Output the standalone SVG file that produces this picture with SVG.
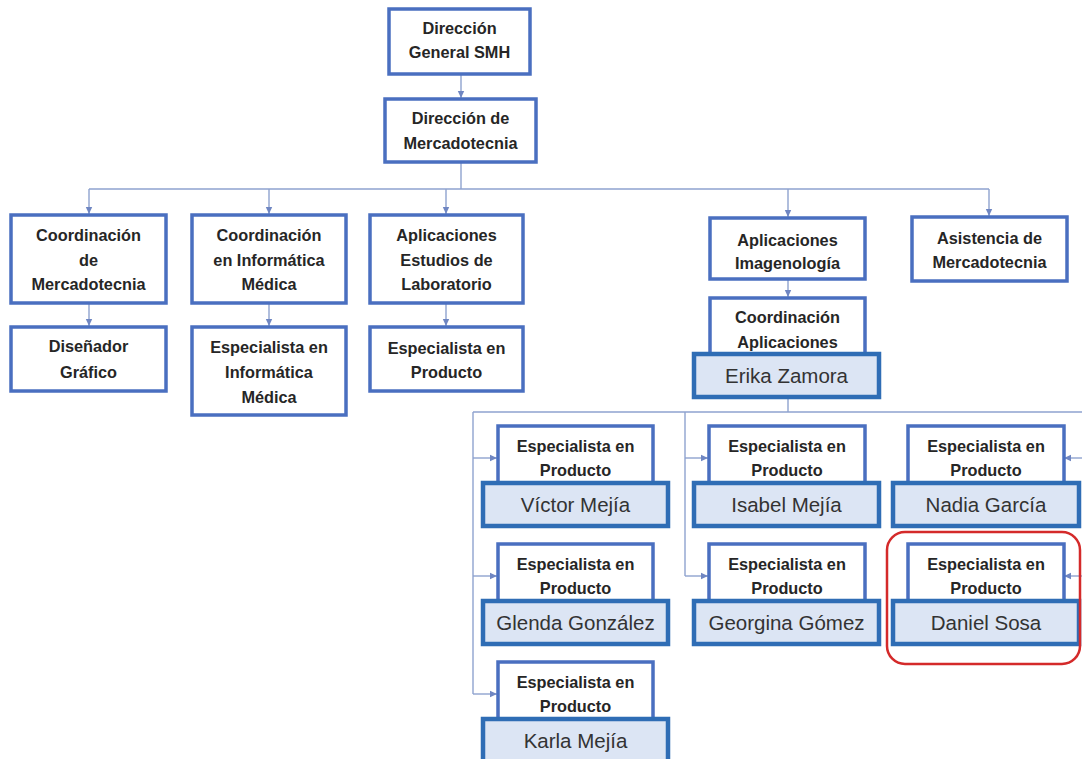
<svg xmlns="http://www.w3.org/2000/svg" width="1082" height="759" viewBox="0 0 1082 759">
  <defs>
    <marker id="arrow" markerUnits="userSpaceOnUse" markerWidth="8" markerHeight="8" refX="7" refY="4" orient="auto">
      <path d="M0,0.8 L7,4 L0,7.2 Z" fill="#6F86C2"/>
    </marker>
    <style>
      .box { fill: #ffffff; stroke: #4A6FC0; stroke-width: 3.5; }
      .name { fill: #DCE5F4; stroke: #2F6DB5; stroke-width: 4.5; }
      .t { font-family: "Liberation Sans", Arial, sans-serif; font-weight: bold; font-size: 16.3px; fill: #262626; text-anchor: middle; }
      .n { font-family: "Liberation Sans", Arial, sans-serif; font-size: 20.5px; fill: #333333; text-anchor: middle; }
      .ln { fill: none; stroke: #8FA3CF; stroke-width: 1.4; }
      .hl { fill: none; stroke: #D42A2A; stroke-width: 2.5; }
    </style>
  </defs>
  <rect width="1082" height="759" fill="#ffffff"/>

  <!-- connectors -->
  <g id="connectors">
    <path class="ln" d="M461,75 V98" marker-end="url(#arrow)"/>
    <path class="ln" d="M461,162 V189 M89,189 H989"/>
    <path class="ln" d="M89,189 V214" marker-end="url(#arrow)"/>
    <path class="ln" d="M269,189 V214" marker-end="url(#arrow)"/>
    <path class="ln" d="M446,189 V214" marker-end="url(#arrow)"/>
    <path class="ln" d="M788,189 V217" marker-end="url(#arrow)"/>
    <path class="ln" d="M989,189 V216" marker-end="url(#arrow)"/>
    <path class="ln" d="M89,303 V326" marker-end="url(#arrow)"/>
    <path class="ln" d="M269,303 V326" marker-end="url(#arrow)"/>
    <path class="ln" d="M446,303 V326" marker-end="url(#arrow)"/>
    <path class="ln" d="M788,279 V297" marker-end="url(#arrow)"/>
    <!-- specialist bus -->
    <path class="ln" d="M788,397 V412 M473,412 H1082 M473,412 V694 M685,412 V576"/>
    <path class="ln" d="M473,458 H497" marker-end="url(#arrow)"/>
    <path class="ln" d="M473,576 H497" marker-end="url(#arrow)"/>
    <path class="ln" d="M473,694 H497" marker-end="url(#arrow)"/>
    <path class="ln" d="M685,458 H708" marker-end="url(#arrow)"/>
    <path class="ln" d="M685,576 H708" marker-end="url(#arrow)"/>
    <path class="ln" d="M1082,458 H1064" marker-end="url(#arrow)"/>
    <path class="ln" d="M1082,576 H1064" marker-end="url(#arrow)"/>
  </g>

  <g id="direccion-general">
    <rect class="box" x="389" y="9" width="141" height="65"/>
    <text class="t" x="459.5" y="34">Dirección</text>
    <text class="t" x="459.5" y="58">General SMH</text>
  </g>
  <g id="direccion-mercadotecnia">
    <rect class="box" x="385" y="99" width="151" height="63"/>
    <text class="t" x="460.5" y="124">Dirección de</text>
    <text class="t" x="460.5" y="149">Mercadotecnia</text>
  </g>

  <g id="coord-mercadotecnia">
    <rect class="box" x="11" y="215" width="155" height="88"/>
    <text class="t" x="88.5" y="241">Coordinación</text>
    <text class="t" x="88.5" y="266">de</text>
    <text class="t" x="88.5" y="290">Mercadotecnia</text>
  </g>
  <g id="coord-informatica">
    <rect class="box" x="192" y="215" width="154" height="88"/>
    <text class="t" x="269" y="241">Coordinación</text>
    <text class="t" x="269" y="266">en Informática</text>
    <text class="t" x="269" y="290">Médica</text>
  </g>
  <g id="aplic-laboratorio">
    <rect class="box" x="370" y="215" width="153" height="88"/>
    <text class="t" x="446.5" y="241">Aplicaciones</text>
    <text class="t" x="446.5" y="266">Estudios de</text>
    <text class="t" x="446.5" y="290">Laboratorio</text>
  </g>
  <g id="aplic-imagenologia">
    <rect class="box" x="710" y="218" width="155" height="61"/>
    <text class="t" x="787.5" y="246">Aplicaciones</text>
    <text class="t" x="787.5" y="269">Imagenología</text>
  </g>
  <g id="asistencia">
    <rect class="box" x="912" y="217" width="155" height="64"/>
    <text class="t" x="989.5" y="244">Asistencia de</text>
    <text class="t" x="989.5" y="268">Mercadotecnia</text>
  </g>

  <g id="disenador">
    <rect class="box" x="11" y="327" width="155" height="64"/>
    <text class="t" x="88.5" y="352">Diseñador</text>
    <text class="t" x="88.5" y="378">Gráfico</text>
  </g>
  <g id="esp-informatica">
    <rect class="box" x="192" y="327" width="154" height="88"/>
    <text class="t" x="269" y="353">Especialista en</text>
    <text class="t" x="269" y="378">Informática</text>
    <text class="t" x="269" y="403">Médica</text>
  </g>
  <g id="esp-laboratorio">
    <rect class="box" x="370" y="327" width="153" height="64"/>
    <text class="t" x="446.5" y="354">Especialista en</text>
    <text class="t" x="446.5" y="378">Producto</text>
  </g>

  <g id="coord-aplicaciones">
    <rect class="box" x="710" y="298" width="155" height="62"/>
    <text class="t" x="787.5" y="323">Coordinación</text>
    <text class="t" x="787.5" y="348">Aplicaciones</text>
    <rect class="name" x="694" y="354" width="185" height="43"/>
    <text class="n" x="786.5" y="383">Erika Zamora</text>
  </g>

  <!-- specialists: white title box with a name bar laid over its lower edge -->
  <g id="esp-victor">
    <rect class="box" x="498" y="426" width="155" height="62"/>
    <text class="t" x="575.5" y="452">Especialista en</text>
    <text class="t" x="575.5" y="476">Producto</text>
    <rect class="name" x="483" y="483" width="185" height="43"/>
    <text class="n" x="575.5" y="512">Víctor Mejía</text>
  </g>
  <g id="esp-isabel">
    <rect class="box" x="709" y="426" width="156" height="62"/>
    <text class="t" x="787" y="452">Especialista en</text>
    <text class="t" x="787" y="476">Producto</text>
    <rect class="name" x="694" y="483" width="185" height="43"/>
    <text class="n" x="786.5" y="512">Isabel Mejía</text>
  </g>
  <g id="esp-nadia">
    <rect class="box" x="908" y="426" width="156" height="62"/>
    <text class="t" x="986" y="452">Especialista en</text>
    <text class="t" x="986" y="476">Producto</text>
    <rect class="name" x="893" y="483" width="186" height="43"/>
    <text class="n" x="986" y="512">Nadia García</text>
  </g>
  <g id="esp-glenda">
    <rect class="box" x="498" y="544" width="155" height="62"/>
    <text class="t" x="575.5" y="570">Especialista en</text>
    <text class="t" x="575.5" y="594">Producto</text>
    <rect class="name" x="483" y="601" width="185" height="43"/>
    <text class="n" x="575.5" y="630">Glenda González</text>
  </g>
  <g id="esp-georgina">
    <rect class="box" x="709" y="544" width="156" height="62"/>
    <text class="t" x="787" y="570">Especialista en</text>
    <text class="t" x="787" y="594">Producto</text>
    <rect class="name" x="694" y="601" width="185" height="43"/>
    <text class="n" x="786.5" y="630">Georgina Gómez</text>
  </g>
  <g id="esp-daniel">
    <rect class="box" x="908" y="544" width="156" height="62"/>
    <text class="t" x="986" y="570">Especialista en</text>
    <text class="t" x="986" y="594">Producto</text>
    <rect class="name" x="893" y="601" width="186" height="43"/>
    <text class="n" x="986" y="630">Daniel Sosa</text>
  </g>
  <g id="esp-karla">
    <rect class="box" x="498" y="662" width="155" height="62"/>
    <text class="t" x="575.5" y="688">Especialista en</text>
    <text class="t" x="575.5" y="712">Producto</text>
    <rect class="name" x="483" y="719" width="185" height="43"/>
    <text class="n" x="575.5" y="748">Karla Mejía</text>
  </g>

  <!-- highlight -->
  <rect id="highlight" class="hl" x="887" y="532" width="193" height="132" rx="18"/>
</svg>
